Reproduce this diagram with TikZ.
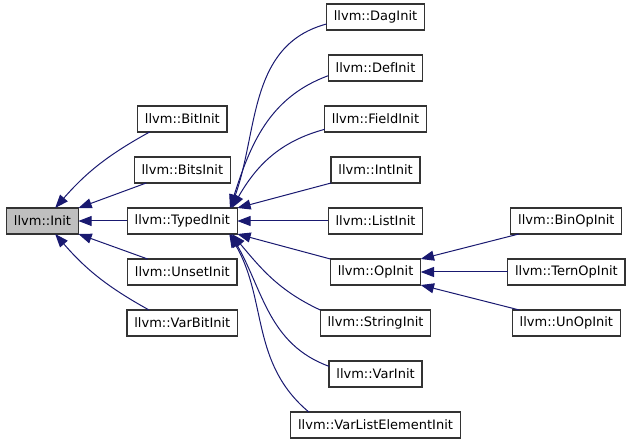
\documentclass[tikz,border=0pt]{standalone}
\usepackage{fontspec}
\setmainfont{DejaVu Sans}
\usetikzlibrary{arrows.meta,positioning}
\definecolor{edgeblue}{RGB}{25,25,112}

\begin{document}
\begin{tikzpicture}[x=0.75pt,y=0.75pt,
    cls/.style={rectangle, draw=black!80, line width=0.9pt, minimum height=19.5pt,
      inner xsep=5.5pt, inner ysep=0pt, outer sep=0pt, font=\fontsize{9.75}{11}\selectfont},
    inh/.style={<-, draw=edgeblue, line width=0.75pt},
    >={Triangle[length=10pt,width=7.5pt]},
    node distance=18.75pt and 36.75pt]
    \useasboundingbox (0,0) rectangle (635,443);

    \node(init) [cls, fill=black!25] at (42.5,222) {llvm::Init};
    \node(typed) [cls, right=36.75pt of init]{llvm::TypedInit};
    \node(bits) [cls, above=of typed]{llvm::BitsInit};
    \node(bit) [cls, above=of bits]{llvm::BitInit};
    \node(unset) [cls, below=of typed]{llvm::UnsetInit};
    \node(varbit) [cls, below=of unset]{llvm::VarBitInit};

    \node(list) [cls, right=68.25pt of typed]{llvm::ListInit};
    \node(int) [cls, above=of list]{llvm::IntInit};
    \node(field) [cls, above=of int]{llvm::FieldInit};
    \node(def) [cls, above=of field]{llvm::DefInit};
    \node(dag) [cls, above=of def]{llvm::DagInit};
    \node(op) [cls, below=of list]{llvm::OpInit};
    \node(string) [cls, below=of op]{llvm::StringInit};
    \node(var) [cls, below=of string]{llvm::VarInit};
    \node(varlist) [cls, below=of var]{llvm::VarListElementInit};

    \node(ternop) [cls, right=65.25pt of op]{llvm::TernOpInit};
    \node(binop) [cls, above=of ternop]{llvm::BinOpInit};
    \node(unop) [cls, below=of ternop]{llvm::UnOpInit};

    \draw[inh] ([xshift=9.5pt]init.north) to[bend left=10] ([xshift=9pt]bit.south west);
    \draw[inh] (init.north east) -- ([xshift=9pt]bits.south west);
    \draw[inh] (init) -- (typed);
    \draw[inh] (init.south east) -- ([xshift=15pt]unset.north west);
    \draw[inh] ([xshift=9.5pt]init.south) to[bend right=10] ([xshift=16.5pt]varbit.north west);

    \draw[inh] ([xshift=-5pt]typed.north east) to[out=70,in=195] ([yshift=4.5pt]dag.south west);
    \draw[inh] ([xshift=-5.5pt]typed.north east) to[out=72,in=200] ([yshift=4pt]def.south west);
    \draw[inh] ([xshift=-4pt]typed.north east) to[out=60,in=195] ([yshift=2pt]field.south west);
    \draw[inh] (typed.north east) -- (int.south west);
    \draw[inh] (typed) -- (list);
    \draw[inh] (typed.south east) -- (op.north west);
    \draw[inh] ([xshift=-4pt]typed.south east) to[out=-50,in=155] (string.north west);
    \draw[inh] ([xshift=-5pt]typed.south east) to[out=-60,in=160] ([yshift=-4pt]var.north west);
    \draw[inh] ([xshift=-6pt]typed.south east) to[out=-60,in=140] ([xshift=13.5pt]varlist.north west);

    \draw[inh] (op.north east) -- ([xshift=6pt]binop.south west);
    \draw[inh] (op) -- (ternop);
    \draw[inh] (op.south east) -- ([xshift=5.25pt]unop.north west);
\end{tikzpicture}
\end{document}
